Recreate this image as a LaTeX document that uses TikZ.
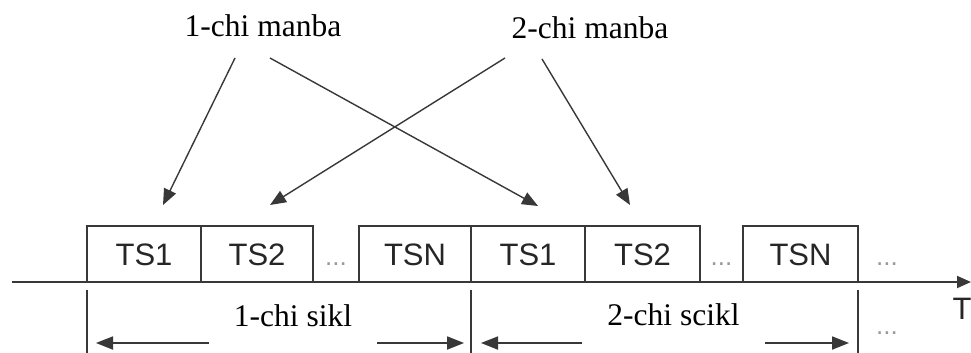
\documentclass[tikz,border=0pt]{standalone}
\usepackage{fontspec}
\setmainfont{Liberation Serif}
\setsansfont{Liberation Sans}
\usetikzlibrary{arrows.meta}
\definecolor{linegray}{HTML}{383838}

\begin{document}
\begin{tikzpicture}[x=1pt,y=-1pt,
  slot/.style={draw=linegray,line width=1.8pt,minimum height=56pt,inner sep=0pt,
    text height=22pt,text depth=0pt,text=black!85,
    font=\sffamily\fontsize{31}{36}\selectfont},
  more/.style={inner sep=0pt,text height=22pt,text depth=0pt,text=black!40,
    font=\sffamily\fontsize{26}{30}\selectfont},
  lbl/.style={inner sep=0pt,anchor=base,font=\fontsize{31.5}{36}\selectfont},
  feed/.style={draw=linegray,line width=1.4pt,-{Triangle[length=16pt,width=13pt]}},
  span/.style={draw=linegray,line width=1.8pt,
    {Triangle[length=17pt,width=13pt]}-{Triangle[length=17pt,width=13pt]}},
]
\useasboundingbox (0,0) rectangle (971,353);
% sources
\node[lbl] (src1) at (263,37) {1-chi manba};
\node[lbl] (src2) at (590,39) {2-chi manba};
% time slots
\node[slot,minimum width=114pt] (ts1a) at (144,254) {TS1};
\node[slot,minimum width=112pt] (ts2a) at (257,254) {TS2};
\node[more] (dotsa) at (336,254) {...};
\node[slot,minimum width=112pt] (tsna) at (415,254) {TSN};
\node[slot,minimum width=114pt] (ts1b) at (528,254) {TS1};
\node[slot,minimum width=115pt] (ts2b) at (642.5,254) {TS2};
\node[more] (dotsb) at (721.5,254) {...};
\node[slot,minimum width=115pt] (tsnb) at (800.5,254) {TSN};
\node[more] (dotsc) at (887,254) {...};
% time axis
\coordinate (t0) at (12,282);
\coordinate (t1) at (971,282);
\draw[linegray,line width=1.8pt,-{Triangle[length=14pt,width=12pt]}] (t0) -- (t1);
\node[font=\sffamily\fontsize{31}{36}\selectfont,inner sep=0pt,text=black!85] (tlbl) at (962,309) {T};
% feeds
\coordinate (s1a) at (235,58);
\coordinate (s1b) at (270,58);
\coordinate (s2a) at (505,58);
\coordinate (s2b) at (542,59);
\coordinate (e1) at (163,205);
\coordinate (e2) at (270,205);
\coordinate (e3) at (538,206);
\coordinate (e4) at (630,205);
\draw[feed] (s1a) -- (e1);
\draw[feed] (s1b) -- (e3);
\draw[feed] (s2a) -- (e2);
\draw[feed] (s2b) -- (e4);
% cycles
\coordinate (k0) at (87,290);
\coordinate (k1) at (471,290);
\coordinate (k2) at (858,290);
\coordinate (c0) at (87,343);
\coordinate (c1) at (471,343);
\coordinate (c2) at (858,343);
\draw[linegray,line width=1.8pt] (k0) -- (87,353);
\draw[linegray,line width=1.8pt] (k1) -- (471,353);
\draw[linegray,line width=1.8pt] (k2) -- (858,353);
\draw[span,shorten <=9pt,shorten >=7pt] (c0) -- (c1);
\draw[span,shorten <=10pt,shorten >=9pt] (c1) -- (c2);
\node[lbl,fill=white,minimum width=168pt,text height=26pt,text depth=21pt] (cyc1) at (293,326) {1-chi sikl};
\node[lbl,fill=white,minimum width=183pt,text height=26pt,text depth=22pt] (cyc2) at (673.5,325) {2-chi scikl};
\node[more] (dotsd) at (887,323) {...};
\end{tikzpicture}
\end{document}
